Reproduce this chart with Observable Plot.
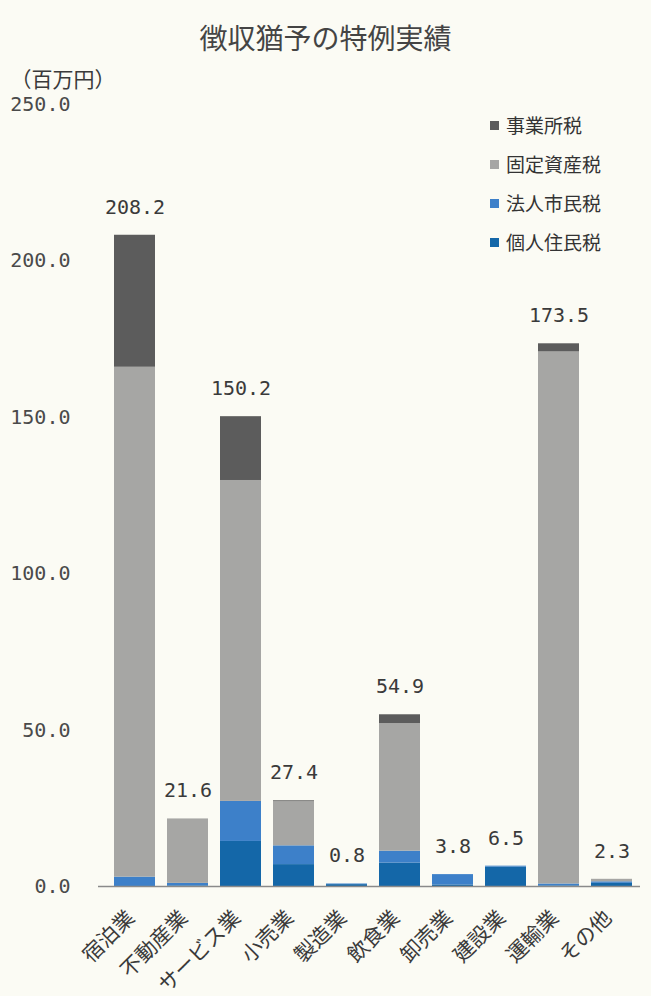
<!DOCTYPE html>
<html><head><meta charset="utf-8">
<script src="https://cdn.jsdelivr.net/npm/d3@7"></script>
<script src="https://cdn.jsdelivr.net/npm/@observablehq/plot@0.6"></script>
<style>
html,body{margin:0;padding:0;background:#fbfbf4;}
#wrap{position:relative;width:651px;height:996px;background:#fbfbf4;overflow:hidden;}
#title{position:absolute;left:0;top:0;width:651px;height:60px;text-align:center;font-family:"Noto Sans CJK JP";font-size:28px;line-height:74px;color:#444;}
#chart{position:absolute;left:0;top:60px;}
#legend{position:absolute;left:490px;top:110px;font-family:"Noto Sans CJK JP";font-size:19px;color:#333;}
#legend div{height:39px;line-height:30px;display:flex;align-items:flex-start;}
#legend span.sw{display:inline-block;width:9px;height:9px;margin-right:7px;margin-top:11px;}
</style></head>
<body><div id="wrap"><div id="title">徴収猶予の特例実績</div><div id="chart"></div><div id="legend"></div></div>
<script>
const categories = ["宿泊業","不動産業","サービス業","小売業","製造業","飲食業","卸売業","建設業","運輸業","その他"];
const totals   = [208.2, 21.6, 150.2, 27.4, 0.8, 54.9, 3.8, 6.5, 173.5, 2.3];
const kojin    = [0, 0.2, 14.4, 7.0, 0.6, 7.5, 0.5, 6.2, 0.2, 1.0];
const hojin    = [3.0, 0.8, 12.8, 6.0, 0.2, 3.8, 3.3, 0.3, 0.6, 0.5];
const kotei    = [163.0, 20.6, 102.6, 14.1, 0, 40.8, 0, 0, 170.1, 0.8];
const jigyosho = [42.2, 0, 20.4, 0.3, 0, 2.8, 0, 0, 2.6, 0];
const seriesNames = ["個人住民税","法人市民税","固定資産税","事業所税"];
const seriesColors = ["#1467a8","#3d80c9","#a6a6a4","#5c5c5c"];
const yTicks = [0, 50, 100, 150, 200, 250];

const seriesValues = [kojin, hojin, kotei, jigyosho];
const rows = [];
categories.forEach((c, i) => {
  seriesNames.forEach((s, j) => rows.push({cat: c, series: s, value: seriesValues[j][i]}));
});
const totalRows = categories.map((c, i) => ({cat: c, total: totals[i]}));

const monoFont = "DejaVu Sans Mono";
const cjkFont = "Noto Sans CJK JP";

const chart = Plot.plot({
  width: 651,
  height: 936,
  marginLeft: 102,
  marginRight: 6,
  marginTop: 44,
  marginBottom: 110,
  style: {background: "transparent", color: "#3a3a3a"},
  x: {domain: categories, padding: 0.22, label: null},
  y: {domain: [0, 250], label: null},
  color: {domain: seriesNames, range: seriesColors},
  marks: [
    Plot.barY(rows, {x: "cat", y: "value", fill: "series"}),
    Plot.ruleY([0], {stroke: "#8a8a8a", strokeWidth: 1.5, insetLeft: -4, insetRight: 5}),
    Plot.text(totalRows, {x: "cat", y: "total", text: d => d.total.toFixed(1), dy: -28, fontSize: 20, fontFamily: monoFont, fill: "#3a3a3a"}),
    Plot.axisY({ticks: yTicks, tickFormat: d => d.toFixed(1), tickSize: 0, tickPadding: 32, fontSize: 20, fontFamily: monoFont, label: null, fill: "#4a4a4a"}),
    Plot.axisX({tickRotate: -45, tickSize: 0, tickPadding: 20, dx: -4, dy: 8, fontSize: 21, fontFamily: cjkFont, label: null, fill: "#3a3a3a"}),
    Plot.text(["（百万円）"], {frameAnchor: "top-left", dx: -92, dy: -32, textAnchor: "start", fontSize: 21, fontFamily: cjkFont, fill: "#3a3a3a"})
  ]
});
document.getElementById("chart").appendChild(chart);

const legend = document.getElementById("legend");
[3, 2, 1, 0].forEach(j => {
  const d = document.createElement("div");
  d.innerHTML = `<span class="sw" style="background:${seriesColors[j]}"></span>${seriesNames[j]}`;
  legend.appendChild(d);
});
</script></body></html>
